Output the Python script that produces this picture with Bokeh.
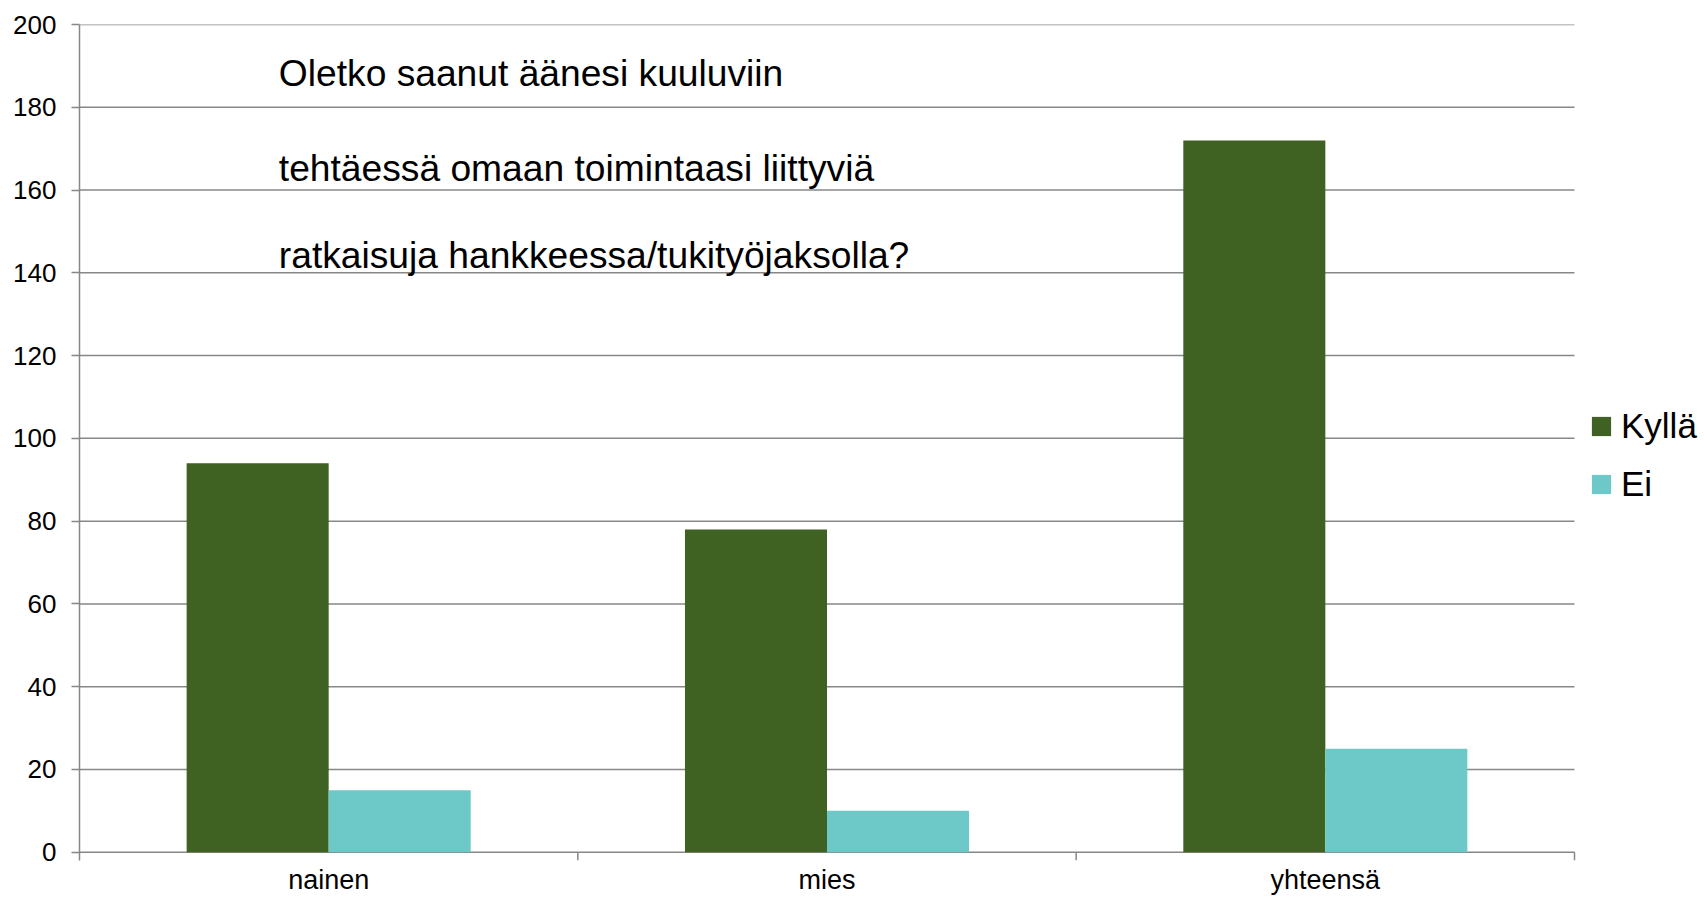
from bokeh.plotting import figure
from bokeh.models import (Range1d, FixedTicker, Legend, LegendItem, Label,
                          ColumnDataSource)
from bokeh.embed import file_html
from bokeh.resources import INLINE

# ---- data ----
categories = ["nainen", "mies", "yhteensä"]
kylla = [94, 78, 172]
ei = [15, 10, 25]
series_names = ["Kyllä", "Ei"]
y_ticks = [0, 20, 40, 60, 80, 100, 120, 140, 160, 180, 200]
title_lines = ["Oletko saanut äänesi kuuluviin",
               "tehtäessä omaan toimintaasi liittyviä",
               "ratkaisuja hankkeessa/tukityöjaksolla?"]

# ---- layout / style ----
FONT = "Liberation Sans"
GREEN = "#3F6121"
CYAN = "#6CC9C7"
GRID = "#878787"
BAR_W = 0.285
W, H = 1704, 897
LEFT, TOP, BOTTOM = 79, 24, 37
CAT_AREA_PX = 1495           # width of the category area
n = len(categories)
x_end = n * (W - LEFT) / CAT_AREA_PX   # frame extends to the right edge (legend area)

centers = [i + 0.5 for i in range(n)]
src = ColumnDataSource(dict(
    xk=[c - BAR_W / 2 for c in centers], xe=[c + BAR_W / 2 for c in centers],
    kylla=kylla, ei=ei))

p = figure(width=W, height=H,
           x_range=Range1d(0, x_end), y_range=Range1d(-2, 200),
           output_backend="svg", toolbar_location=None,
           min_border_left=LEFT, min_border_right=0,
           min_border_top=TOP, min_border_bottom=BOTTOM)
p.outline_line_color = None
p.background_fill_color = "white"

# horizontal gridlines limited to the category area
p.segment(x0=[0] * len(y_ticks), x1=[n] * len(y_ticks), y0=y_ticks, y1=y_ticks,
          line_color=GRID, line_width=1.5)

r1 = p.vbar(x="xk", top="kylla", bottom=0, width=BAR_W, source=src,
            fill_color=GREEN, line_color=None)
r2 = p.vbar(x="xe", top="ei", bottom=0, width=BAR_W, source=src,
            fill_color=CYAN, line_color=None)

# category boundary tick marks below the baseline
bx = list(range(1, n + 1))
p.segment(x0=bx, y0=[0] * n, x1=bx, y1=[-2] * n, line_color=GRID, line_width=1.5)

# y axis
p.yaxis.ticker = FixedTicker(ticks=y_ticks)
p.yaxis.axis_line_color = GRID
p.yaxis.axis_line_width = 1.5
p.yaxis.major_tick_line_color = GRID
p.yaxis.major_tick_line_width = 1.5
p.yaxis.major_tick_out = 8
p.yaxis.major_tick_in = 0
p.yaxis.minor_tick_line_color = None
p.yaxis.major_label_text_font = FONT
p.yaxis.major_label_text_font_size = "26px"
p.yaxis.major_label_text_color = "black"
p.yaxis.major_label_standoff = 15

# x axis: category names at category centres
p.xaxis.ticker = FixedTicker(ticks=centers)
p.xaxis.major_label_overrides = {c: name for c, name in zip(centers, categories)}
p.xaxis.axis_line_color = None
p.xaxis.major_tick_line_color = None
p.xaxis.major_tick_out = 0
p.xaxis.major_tick_in = 0
p.xaxis.minor_tick_line_color = None
p.xaxis.major_label_text_font = FONT
p.xaxis.major_label_text_font_size = "27px"
p.xaxis.major_label_text_line_height = 0.8
p.xaxis.major_label_text_color = "black"
p.xaxis.major_label_standoff = 4

p.xgrid.grid_line_color = None
p.ygrid.grid_line_color = None

# title text inside plot area (baseline correction of ~3.4 units for svg text)
title_base = [185, 162, 141]
for line, yb in zip(title_lines, title_base):
    p.add_layout(Label(x=0.40, y=yb + 3.4, text=line, text_font=FONT,
                       text_font_size="37.2px", text_color="black",
                       text_baseline="alphabetic"))

legend = Legend(items=[LegendItem(label=series_names[0], renderers=[r1]),
                       LegendItem(label=series_names[1], renderers=[r2])],
                location=(1510, 356), padding=0, margin=0,
                glyph_width=24, glyph_height=24, label_height=24,
                spacing=18, label_standoff=8,
                label_text_font=FONT, label_text_font_size="35px",
                label_text_color="black",
                border_line_color=None, background_fill_alpha=0)
p.add_layout(legend, "center")

open("out.html", "w").write(file_html(p, INLINE))
